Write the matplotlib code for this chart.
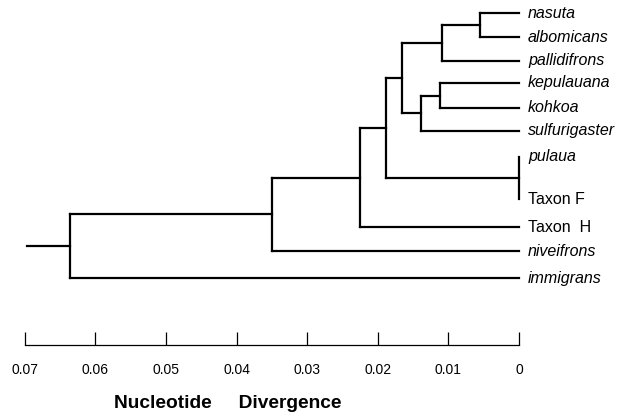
import matplotlib.pyplot as plt

plt.rcParams['font.family'] = ['Liberation Sans', 'DejaVu Sans']

# leaves, top to bottom
taxa = ['nasuta', 'albomicans', 'pallidifrons', 'kepulauana', 'kohkoa',
        'sulfurigaster', 'pulaua', 'Taxon F', 'Taxon  H', 'niveifrons',
        'immigrans']
roman = ['Taxon F', 'Taxon  H']

# joins: (new node, child a, child b, nucleotide divergence)
joins = [
    ('n1', 'nasuta', 'albomicans', 0.0055),
    ('n2', 'n1', 'pallidifrons', 0.0109),
    ('n3', 'kepulauana', 'kohkoa', 0.0112),
    ('n4', 'n3', 'sulfurigaster', 0.0139),
    ('n5', 'n2', 'n4', 0.0166),
    ('n6', 'pulaua', 'Taxon F', 0.0),
    ('n7', 'n5', 'n6', 0.0188),
    ('n8', 'n7', 'Taxon  H', 0.0225),
    ('n9', 'n8', 'niveifrons', 0.0350),
    ('root', 'n9', 'immigrans', 0.0636),
]
root_stem = 0.0697

ticks = [0.07, 0.06, 0.05, 0.04, 0.03, 0.02, 0.01, 0]
tick_labels = ['0.07', '0.06', '0.05', '0.04', '0.03', '0.02', '0.01', '0']

# layout: vertical pixel row of each leaf
leaf_rows = [13, 37, 61, 83, 108, 131, 157, 199, 227, 251, 278]

W, H = 618, 416
px_per_unit = 7060.0
x0 = 519.0
xlim = (x0 / px_per_unit, (x0 - W) / px_per_unit)

fig = plt.figure(figsize=(W / 100, H / 100), dpi=100)
ax = fig.add_axes([0, 0, 1, 1])
ax.set_xlim(*xlim)
ax.set_ylim(H, 0)
ax.axis('off')

ypos = dict(zip(taxa, leaf_rows))
height = {t: 0.0 for t in taxa}
lw = 1.6
for node, a, b, h in joins:
    ax.plot([h, h], [ypos[a], ypos[b]], color='black', lw=lw, solid_capstyle='projecting')
    for c in (a, b):
        ax.plot([h, height[c]], [ypos[c], ypos[c]], color='black', lw=lw, solid_capstyle='projecting')
    ypos[node] = (ypos[a] + ypos[b]) / 2
    height[node] = h
ax.plot([root_stem, height['root']], [ypos['root'], ypos['root']], color='black', lw=lw)

for t in taxa:
    if t in roman:
        ax.text(-9 / px_per_unit, ypos[t], t, fontsize=11.5, va='center', ha='left')
    else:
        ax.text(-9 / px_per_unit, ypos[t], t, fontsize=11.5, style='italic', va='center', ha='left')

# divergence scale
ax2 = fig.add_axes([0, (H - 345) / H, 1, 0.05])
ax2.set_xlim(*xlim)
ax2.patch.set_alpha(0)
for s in ['top', 'left', 'right']:
    ax2.spines[s].set_visible(False)
ax2.spines['bottom'].set_bounds(0, 0.07)
ax2.spines['bottom'].set_linewidth(0.9)
ax2.set_yticks([])
ax2.set_xticks(ticks)
ax2.set_xticklabels(tick_labels)
ax2.tick_params(axis='x', direction='in', length=9.5, width=0.9, pad=13, labelsize=10)

fig.text(227.5 / W, 1 - 403 / H, 'Nucleotide     Divergence', fontsize=13.8,
         fontweight='bold', ha='center', va='center')

fig.savefig('out.png', dpi=100)
